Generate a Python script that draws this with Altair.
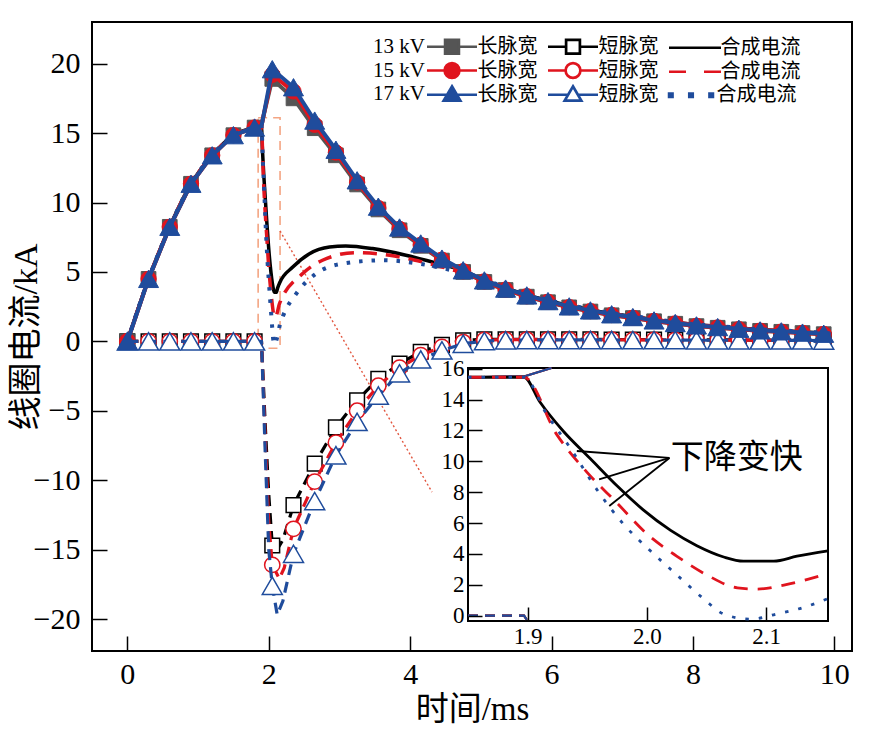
import altair as alt
import pandas as pd

FONT = "Liberation Serif, Noto Sans CJK SC"
CJK = "Noto Sans CJK SC"
SERIF = "Liberation Serif"

# ---------------- data ----------------
X_TICKS = [0, 2, 4, 6, 8, 10]
Y_TICKS = [-20, -15, -10, -5, 0, 5, 10, 15, 20]
INSET_X_TICKS = [1.9, 2.0, 2.1]
INSET_Y_TICKS = [0, 2, 4, 6, 8, 10, 12, 14, 16]

VOLTS = ["13 kV", "15 kV", "17 kV"]
ENTRY_NAMES = ["长脉宽", "短脉宽", "合成电流"]

MARK_T = [0.0, 0.3, 0.6, 0.9, 1.2, 1.5, 1.8, 2.05, 2.35, 2.65, 2.95, 3.25, 3.55,
          3.85, 4.15, 4.45, 4.75, 5.05, 5.35, 5.65, 5.95, 6.25, 6.55, 6.85, 7.15,
          7.45, 7.75, 8.05, 8.35, 8.65, 8.95, 9.25, 9.55, 9.85]

LONG_13 = [0, 4.5, 8.25, 11.35, 13.4, 14.85, 15.4, 18.9, 17.5, 15.35, 13.4, 11.3,
           9.5, 8.0, 6.88, 5.82, 5.0, 4.28, 3.7, 3.22, 2.82, 2.45, 2.15, 1.88, 1.68,
           1.45, 1.27, 1.1, 0.98, 0.87, 0.76, 0.69, 0.6, 0.52]
LONG_15 = [0, 4.5, 8.25, 11.35, 13.4, 14.85, 15.4, 19.2, 18.0, 15.6, 13.6, 11.45,
           9.6, 8.1, 6.95, 5.88, 5.05, 4.32, 3.73, 3.25, 2.85, 2.47, 2.18, 1.9, 1.7,
           1.47, 1.29, 1.12, 1.0, 0.88, 0.77, 0.7, 0.61, 0.53]
LONG_17 = [0, 4.5, 8.25, 11.35, 13.4, 14.85, 15.4, 19.6, 18.3, 15.9, 13.8, 11.6,
           9.7, 8.2, 7.05, 5.96, 5.12, 4.39, 3.8, 3.31, 2.9, 2.52, 2.23, 1.95, 1.75,
           1.51, 1.32, 1.15, 1.03, 0.91, 0.79, 0.72, 0.63, 0.55]
LONG_EXTRA_T = [1.85, 1.897, 1.92, 9.95]
LONG_13_EXTRA = [15.45, 15.5, 16.1, 0.47]
LONG_15_EXTRA = [15.45, 15.5, 16.1, 0.48]
LONG_17_EXTRA = [15.45, 15.5, 16.1, 0.5]

SHORT_13 = [0, 0, 0, 0, 0, 0, 0, -14.7, -11.8, -8.8, -6.2, -4.25, -2.7, -1.6, -0.75,
            -0.25, 0.08, 0.15, 0.15, 0.15, 0.15, 0.15, 0.14, 0.13, 0.12, 0.12, 0.11,
            0.1, 0.1, 0.1, 0.09, 0.09, 0.08, 0.08]
SHORT_15 = [0, 0, 0, 0, 0, 0, 0, -16.1, -13.5, -10.1, -7.3, -5.0, -3.2, -1.9, -1.0,
            -0.4, -0.05, 0.1, 0.12, 0.13, 0.13, 0.13, 0.12, 0.12, 0.11, 0.11, 0.1,
            0.1, 0.09, 0.09, 0.08, 0.08, 0.08, 0.07]
SHORT_17 = [0, 0, 0, 0, 0, 0, 0, -17.6, -15.3, -11.5, -8.2, -5.8, -3.9, -2.3, -1.3,
            -0.65, -0.17, 0.02, 0.08, 0.1, 0.1, 0.1, 0.1, 0.1, 0.09, 0.09, 0.09,
            0.08, 0.08, 0.08, 0.07, 0.07, 0.07, 0.06]
SHORT_13_EXTRA_T = [1.85, 1.897, 1.9, 1.95, 2.0, 2.13, 2.2, 9.95]
SHORT_13_EXTRA = [0, 0, -0.35, -6.0, -11.0, -14.9, -14.3, 0.08]
SHORT_15_EXTRA_T = [1.85, 1.897, 1.9, 1.95, 2.0, 2.15, 2.22, 9.95]
SHORT_15_EXTRA = [0, 0, -0.35, -7.0, -13.0, -17.1, -16.3, 0.07]
SHORT_17_EXTRA_T = [1.85, 1.897, 1.9, 1.95, 2.0, 2.12, 2.2, 9.95]
SHORT_17_EXTRA = [0, 0, -0.35, -8.0, -15.0, -19.7, -18.7, 0.06]

TAIL_T = [5.35, 5.65, 5.95, 6.25, 6.55, 6.85, 7.15, 7.45, 7.75, 8.05, 8.35, 8.65,
          8.95, 9.25, 9.55, 9.85, 9.95]
COMB_13_T = [0, 0.3, 0.6, 0.9, 1.2, 1.5, 1.8, 1.85, 1.897, 1.9105, 1.930, 1.9525,
             1.975, 1.997, 2.02, 2.042, 2.0645, 2.081, 2.1065, 2.126, 2.153, 2.34,
             2.57, 2.86, 3.09, 3.47, 3.94, 4.37, 4.75, 5.05] + TAIL_T
COMB_13 = [0, 4.5, 8.25, 11.35, 13.4, 14.85, 15.4, 15.45, 15.45, 13.83, 11.95, 10.18,
           8.41, 6.85, 5.52, 4.53, 3.8, 3.53, 3.53, 3.85, 4.2, 5.35, 6.3, 6.8, 6.87,
           6.68, 6.2, 5.64, 5.1, 4.42,
           3.84, 3.35, 2.95, 2.58, 2.28, 2.0, 1.8, 1.57, 1.38, 1.2, 1.08, 0.96, 0.85,
           0.77, 0.68, 0.6, 0.55]
COMB_15_T = [0, 0.3, 0.6, 0.9, 1.2, 1.5, 1.8, 1.85, 1.897, 1.9245, 1.9497, 1.975,
             2.0, 2.025, 2.05, 2.076, 2.0925, 2.115, 2.151, 2.48, 2.76, 3.23, 3.71,
             4.18, 4.6, 5.05] + TAIL_T
COMB_15 = [0, 4.5, 8.25, 11.35, 13.4, 14.85, 15.4, 15.45, 15.45, 11.73, 9.3, 7.3,
           5.3, 3.86, 2.65, 1.8, 1.72, 1.98, 2.7, 4.88, 5.84, 6.39, 6.2, 5.71, 5.15,
           4.45,
           3.85, 3.36, 2.96, 2.59, 2.28, 2.0, 1.8, 1.57, 1.38, 1.2, 1.08, 0.96, 0.85,
           0.77, 0.68, 0.6, 0.55]
COMB_17_T = [0, 0.3, 0.6, 0.9, 1.2, 1.5, 1.8, 1.85, 1.897, 1.916, 1.936, 1.958, 1.98,
             2.003, 2.025, 2.0475, 2.0645, 2.087, 2.109, 2.132, 2.153, 2.2, 2.39,
             2.67, 3.05, 3.61, 4.18, 4.6, 5.05] + TAIL_T
COMB_17 = [0, 4.5, 8.25, 11.35, 13.4, 14.85, 15.4, 15.45, 15.45, 13.06, 10.84, 8.18,
           5.97, 4.2, 2.65, 1.1, 0.1, -0.23, 0.1, 0.54, 1.1, 1.8, 3.44, 4.88, 5.6,
           5.84, 5.55, 5.1, 4.45,
           3.88, 3.39, 2.99, 2.62, 2.32, 2.04, 1.84, 1.6, 1.41, 1.23, 1.1, 0.98, 0.87,
           0.79, 0.7, 0.62, 0.57]

# zoom box and leader line (main coordinates)
ZOOM_BOX_X = [1.85, 2.16]
ZOOM_BOX_Y = [-0.5, 16.1]
LEADER_X = [2.16, 4.31]
LEADER_Y = [7.95, -10.86]

# inset ranges and annotation (inset coordinates)
INSET_X = [1.85, 2.152]
INSET_Y = [-0.35, 16.05]
ANNOT_TEXT = ["下降变快"]
ANNOT_X = [2.02]
ANNOT_Y = [10.2]
ARROW_X1 = [2.019, 2.019, 2.019]
ARROW_Y1 = [10.22, 10.22, 10.22]
ARROW_X2 = [1.9413, 1.960, 1.9685]
ARROW_Y2 = [10.67, 8.83, 7.10]

# ---------------- styles ----------------
W, H = 760, 629
BLUE = "#1f4c9c"
RED = "#e0141e"
GRAY = "#555555"
BLACK = "#000000"

STYLE = {
    "13 kV": dict(long=GRAY, short=BLACK, comb=BLACK, comb_dash=None, shape="square",
                  size=215, inset_dash=None, comb_w=3.5),
    "15 kV": dict(long=RED, short=RED, comb=RED, comb_dash=[14, 9], shape="circle",
                  size=235, inset_dash=[14, 10], comb_w=3.5),
    "17 kV": dict(long=BLUE, short=BLUE, comb=BLUE, comb_dash=[3.5, 9],
                  shape="triangle-up", size=400, inset_dash=[3.5, 10], comb_w=4),
}

# legend symbol paths (unit = 10 px with symbolSize 400)
SQ_LINE = "M-2.5,0H-0.7M0.7,0H2.5"
CI_LINE = "M-2.5,0H-0.75M0.75,0H2.5"
TR_LINE = "M-2.5,0H-0.5M0.5,0H2.5"
SQ_F = SQ_LINE + "M-0.7,-0.7H0.7V0.7H-0.7Z"
SQ_H = SQ_F + "M-0.68,-0.68V0.68H0.68V-0.68Z"
CI_F = CI_LINE + "M0.75,0A0.75,0.75,0,1,1,-0.75,0A0.75,0.75,0,1,1,0.75,0Z"
CI_H = CI_F + "M0.73,0A0.73,0.73,0,1,0,-0.73,0A0.73,0.73,0,1,0,0.73,0Z"
TR_F = TR_LINE + "M0,-0.85L0.85,0.6L-0.85,0.6Z"
TR_H = TR_F + "M0,-0.82L-0.82,0.58L0.82,0.58Z"
C_SOLID = "M-2.6,0H2.6"
C_DASH = "M-2.6,0H-0.9M0.9,0H2.6"
C_DOT = ("M-2.2,-0.18H-1.84V0.18H-2.2Z"
         "M-0.18,-0.18H0.18V0.18H-0.18Z"
         "M1.84,-0.18H2.2V0.18H1.84Z")
LEGEND_PATHS = {
    "13 kV": [SQ_F, SQ_H, C_SOLID],
    "15 kV": [CI_F, CI_H, C_DASH],
    "17 kV": [TR_F, TR_H, C_DOT],
}
LEGEND_Y = {"13 kV": 13, "15 kV": 37, "17 kV": 61}

# ---------------- frames ----------------
def frame(ts, vs):
    return pd.DataFrame({"t": ts, "v": vs}).sort_values("t").reset_index(drop=True)

DATA = {
    "13 kV": dict(long_line=frame(MARK_T + LONG_EXTRA_T, LONG_13 + LONG_13_EXTRA),
                  long_mark=frame(MARK_T, LONG_13),
                  short_line=frame(MARK_T + SHORT_13_EXTRA_T, SHORT_13 + SHORT_13_EXTRA),
                  short_mark=frame(MARK_T, SHORT_13),
                  comb=frame(COMB_13_T, COMB_13)),
    "15 kV": dict(long_line=frame(MARK_T + LONG_EXTRA_T, LONG_15 + LONG_15_EXTRA),
                  long_mark=frame(MARK_T, LONG_15),
                  short_line=frame(MARK_T + SHORT_15_EXTRA_T, SHORT_15 + SHORT_15_EXTRA),
                  short_mark=frame(MARK_T, SHORT_15),
                  comb=frame(COMB_15_T, COMB_15)),
    "17 kV": dict(long_line=frame(MARK_T + LONG_EXTRA_T, LONG_17 + LONG_17_EXTRA),
                  long_mark=frame(MARK_T, LONG_17),
                  short_line=frame(MARK_T + SHORT_17_EXTRA_T, SHORT_17 + SHORT_17_EXTRA),
                  short_mark=frame(MARK_T, SHORT_17),
                  comb=frame(COMB_17_T, COMB_17)),
}

xs_main = alt.Scale(domain=[-0.5, 10.25], nice=False, zero=False)
ys_main = alt.Scale(domain=[-22.3, 23], nice=False, zero=False)
xs_in = alt.Scale(domain=INSET_X, range=[376, 736], nice=False, zero=False, clamp=True)
ys_in = alt.Scale(domain=INSET_Y, range=[599, 346], nice=False, zero=False, clamp=True)


def enc(xs, ys):
    return dict(x=alt.X("t:Q", scale=xs, axis=None), y=alt.Y("v:Q", scale=ys, axis=None))


def line(df, color, width, dash=None, xs=xs_main, ys=ys_main, lo=None, hi=None,
         smooth=False):
    kw = dict(color=color, strokeWidth=width)
    if dash:
        kw["strokeDash"] = dash
    if smooth:
        kw["interpolate"] = "monotone"
    ch = alt.Chart(df).mark_line(**kw).encode(**enc(xs, ys))
    if lo is not None:
        ch = ch.transform_filter((alt.datum.t >= lo) & (alt.datum.t <= hi))
    return ch


# ---------------- main plot ----------------
ax_x = alt.Axis(values=X_TICKS, title="时间/ms", orient="bottom", ticks=False,
                domain=False, grid=False, labelFont=SERIF, labelFontSize=30,
                labelColor="black", labelPadding=8, labelFlush=False,
                titleFont=FONT, titleFontSize=33, titleFontWeight="normal",
                titleColor="black", titlePadding=4)
ax_y = alt.Axis(values=Y_TICKS, title="线圈电流/kA", orient="left", ticks=False,
                domain=False, grid=False, labelFont=SERIF, labelFontSize=30,
                labelColor="black", labelPadding=12, titleFont=FONT,
                titleFontSize=34, titleFontWeight="normal", titleColor="black",
                titlePadding=-10)
tick_x = alt.Axis(values=X_TICKS, orient="top", offset=-H, labels=False, domain=False,
                  grid=False, title=None, tickSize=15, tickWidth=1.5, tickColor="black")
tick_y = alt.Axis(values=Y_TICKS, orient="right", offset=-W, labels=False, domain=False,
                  grid=False, title=None, tickSize=15, tickWidth=1.5, tickColor="black")

box_df = pd.DataFrame({"x1": [ZOOM_BOX_X[0]], "x2": [ZOOM_BOX_X[1]],
                       "y1": [ZOOM_BOX_Y[0]], "y2": [ZOOM_BOX_Y[1]]})
zoom_box = alt.Chart(box_df).mark_rect(fillOpacity=0, stroke="#f4a583", strokeWidth=1.6,
                                       strokeDash=[9, 6]).encode(
    x=alt.X("x1:Q", scale=xs_main, axis=ax_x), x2="x2:Q",
    y=alt.Y("y1:Q", scale=ys_main, axis=ax_y), y2="y2:Q")

leader_df = pd.DataFrame({"t": LEADER_X, "v": LEADER_Y})
leader = alt.Chart(leader_df).mark_line(color="#e2563f", strokeWidth=1.4,
                                        strokeDash=[2, 2.5]).encode(
    x=alt.X("t:Q", scale=xs_main, axis=tick_x),
    y=alt.Y("v:Q", scale=ys_main, axis=tick_y))

main_layers = [zoom_box, leader]
for kv in VOLTS:
    s, d = STYLE[kv], DATA[kv]
    main_layers.append(line(d["short_line"], s["short"], 3.2, [11, 7]))
    main_layers.append(alt.Chart(d["short_mark"]).mark_point(
        shape=s["shape"], size=s["size"], filled=True, fill="white", stroke=s["short"],
        strokeWidth=1.5, opacity=1).encode(**enc(xs_main, ys_main)))
    main_layers.append(line(d["comb"], s["comb"], s["comb_w"], s["comb_dash"], smooth=True))
    main_layers.append(line(d["long_line"], s["long"], 4))
    main_layers.append(alt.Chart(d["long_mark"]).mark_point(
        shape=s["shape"], size=s["size"], filled=True, fill=s["long"], stroke=s["long"],
        strokeWidth=1, opacity=1).encode(**enc(xs_main, ys_main)))

# legends (one per voltage), from invisible marks sitting on the first data rows
for kv in VOLTS:
    s, d = STYLE[kv], DATA[kv]
    cols = [s["long"], s["short"], s["comb"]]
    dummy = pd.DataFrame({"entry": ENTRY_NAMES,
                          "t": [d["long_line"].t[0], d["short_line"].t[0], d["comb"].t[0]],
                          "v": [d["long_line"].v[0], d["short_line"].v[0], d["comb"].v[0]]})
    leg = alt.Legend(title=kv, orient="none", legendX=281, legendY=LEGEND_Y[kv],
                     direction="horizontal", titleOrient="left", titleFont=SERIF,
                     titleFontSize=21, titleFontWeight="normal", titleColor="black",
                     titlePadding=2, titleLimit=300, labelFont=FONT, labelFontSize=20,
                     labelColor="black", labelOffset=14, labelLimit=300,
                     symbolOffset=13.5, symbolSize=400, symbolStrokeWidth=2.5,
                     symbolOpacity=1, columnPadding=5, padding=0, offset=0)
    main_layers.append(alt.Chart(dummy).mark_point(filled=True, opacity=0).encode(
        x=alt.X("t:Q", scale=xs_main, axis=None),
        y=alt.Y("v:Q", scale=ys_main, axis=None),
        color=alt.Color("entry:N", scale=alt.Scale(domain=ENTRY_NAMES, range=cols), legend=leg),
        stroke=alt.Stroke("entry:N", scale=alt.Scale(domain=ENTRY_NAMES, range=cols), legend=leg),
        shape=alt.Shape("entry:N", scale=alt.Scale(domain=ENTRY_NAMES, range=LEGEND_PATHS[kv]),
                        legend=leg)))

main = alt.layer(*main_layers).resolve_scale(
    color="independent", stroke="independent", shape="independent"
).resolve_axis(x="independent", y="independent")

# ---------------- inset ----------------
in_ax_x = alt.Axis(values=INSET_X_TICKS, format=".1f", orient="bottom", offset=-(H - 599),
                   ticks=False, domain=False, grid=False, title=None, labelFont=SERIF,
                   labelFontSize=23, labelColor="black", labelPadding=4, labelFlush=False)
in_ax_y = alt.Axis(values=INSET_Y_TICKS, orient="left", offset=-376, ticks=False,
                   domain=False, grid=False, title=None, labelFont=SERIF,
                   labelFontSize=23, labelColor="black", labelPadding=4, labelFlush=False)
in_tick_x = alt.Axis(values=INSET_X_TICKS, orient="top", offset=-599, labels=False,
                     domain=False, grid=False, title=None, tickSize=14, tickWidth=1.5,
                     tickColor="black", zindex=1)
in_tick_y = alt.Axis(values=INSET_Y_TICKS, orient="right", offset=-(W - 376), labels=False,
                     domain=False, grid=False, title=None, tickSize=14, tickWidth=1.5,
                     tickColor="black", zindex=1)

inbox_df = pd.DataFrame({"x1": [INSET_X[0]], "x2": [INSET_X[1]],
                         "y1": [INSET_Y[0]], "y2": [INSET_Y[1]]})
inset_box = alt.Chart(inbox_df).mark_rect(fill="white", stroke="black", strokeWidth=2).encode(
    x=alt.X("x1:Q", scale=xs_in, axis=in_ax_x), x2="x2:Q",
    y=alt.Y("y1:Q", scale=ys_in, axis=in_ax_y), y2="y2:Q")

inset_layers = [inset_box]
for kv in VOLTS:
    s, d = STYLE[kv], DATA[kv]
    inset_layers.append(line(d["long_line"], s["long"], 2.2, None, xs_in, ys_in, 1.85, 1.92))
    inset_layers.append(line(d["short_line"], s["short"], 2.2, [10, 7], xs_in, ys_in, 1.85, 1.9))
for kv in VOLTS:
    s, d = STYLE[kv], DATA[kv]
    inset_layers.append(line(d["comb"], s["comb"], 2.8, s["inset_dash"], xs_in, ys_in,
                             1.85, 2.16, smooth=True))

arrow_df = pd.DataFrame({"x1": ARROW_X1, "y1": ARROW_Y1, "x2": ARROW_X2, "y2": ARROW_Y2})
arrows = alt.Chart(arrow_df).mark_rule(color="black", strokeWidth=1.8).encode(
    x=alt.X("x1:Q", scale=xs_in, axis=in_tick_x), x2="x2:Q",
    y=alt.Y("y1:Q", scale=ys_in, axis=in_tick_y), y2="y2:Q")
text_df = pd.DataFrame({"label": ANNOT_TEXT, "t": ANNOT_X, "v": ANNOT_Y})
annot = alt.Chart(text_df).mark_text(align="left", baseline="middle", font=FONT,
                                     fontSize=33, color="black").encode(
    x=alt.X("t:Q", scale=xs_in, axis=None), y=alt.Y("v:Q", scale=ys_in, axis=None),
    text="label:N")
inset_layers += [arrows, annot]

inset = alt.layer(*inset_layers).resolve_axis(x="independent", y="independent")

chart = alt.layer(main, inset).resolve_scale(x="independent", y="independent").properties(
    width=W, height=H, autosize="none",
    padding={"left": 84, "top": 14, "right": 13, "bottom": 75},
    background="white",
).configure_view(stroke="black", strokeWidth=2)

chart.save("out.html", embed_options={"renderer": "svg", "actions": False})
